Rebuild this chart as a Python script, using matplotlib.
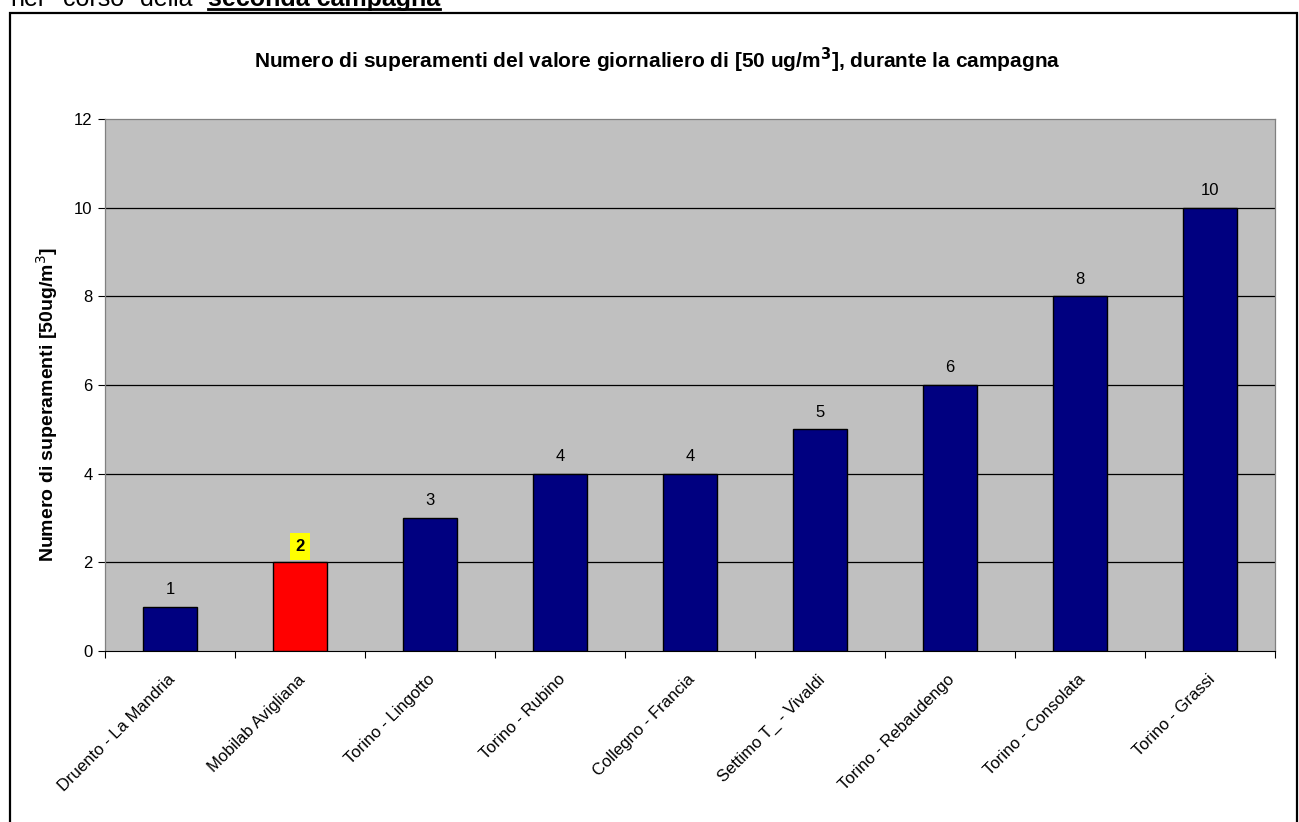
import matplotlib
matplotlib.use("Agg")
import matplotlib.pyplot as plt
from matplotlib.patches import Rectangle
from matplotlib.lines import Line2D

plt.rcParams['font.family'] = ['Liberation Sans', 'DejaVu Sans']

stations = ["Druento - La Mandria", "Mobilab Avigliana", "Torino - Lingotto",
            "Torino - Rubino", "Collegno - Francia", "Settimo T_ - Vivaldi",
            "Torino - Rebaudengo", "Torino - Consolata", "Torino - Grassi"]
exceedances = [1, 2, 3, 4, 4, 5, 6, 8, 10]
highlight = "Mobilab Avigliana"
yticks = [0, 2, 4, 6, 8, 10, 12]

W, H = 1299, 822
fig = plt.figure(figsize=(W / 100, H / 100), dpi=100)
fig.patch.set_facecolor('white')

# outer frame
fig.patches.append(Rectangle((10 / W, -0.01), (1297 - 10) / W, (H - 13) / H + 0.01,
                             transform=fig.transFigure, fill=False,
                             edgecolor='black', linewidth=1.6))

# cut-off heading text at top (justified line in the source document)
base_y = 1 - 6 / H
for word, px in [("nel", 10), ("corso", 63), ("della", 140)]:
    fig.text(px / W, base_y, word, fontsize=18, ha='left', va='baseline',
             color='black')
t2 = fig.text(208 / W, base_y, "seconda campagna", fontsize=18,
              fontweight='bold', ha='left', va='baseline', color='black')
fig.canvas.draw()
r = fig.canvas.get_renderer()
bb2 = t2.get_window_extent(r)
fig.lines.append(Line2D([bb2.x0 / W, bb2.x1 / W], [1 - 9 / H, 1 - 9 / H],
                        transform=fig.transFigure, color='black', linewidth=2))

ax = fig.add_axes([105 / W, 1 - 651 / H, (1275 - 105) / W, (651 - 119) / H])
ax.set_facecolor('#C0C0C0')

x = list(range(len(stations)))
colors = ['#FF0000' if s == highlight else '#000080' for s in stations]
ax.bar(x, exceedances, width=0.41, color=colors, edgecolor='black',
       linewidth=1.0, zorder=3)

ax.set_xlim(-0.5, len(stations) - 0.5)
ax.set_ylim(0, 12)
ax.set_yticks(yticks)
ax.set_yticklabels([str(v) for v in yticks], fontsize=12)
for v in yticks[1:-1]:
    ax.axhline(v, color='black', linewidth=0.9, zorder=1)

ax.set_xticks([i + 0.5 for i in range(-1, len(stations))])
ax.set_xticklabels([])
ax.tick_params(axis='x', length=5, direction='out', width=0.8)
ax.tick_params(axis='y', length=5, direction='out', width=0.8, pad=4)

for s, xi in zip(stations, x):
    ax.annotate(s, xy=(xi, 0), xycoords=('data', 'axes fraction'),
                xytext=(-2, -15), textcoords='offset points',
                rotation=45, rotation_mode='anchor', ha='right', va='top',
                fontsize=12)

for s, xi, v in zip(stations, x, exceedances):
    if s == highlight:
        ax.annotate(str(v), xy=(xi, v), xytext=(0, 6), textcoords='offset points',
                    ha='center', va='bottom', fontsize=12, fontweight='bold',
                    bbox=dict(boxstyle='square,pad=0.35', facecolor='#FFFF00',
                              edgecolor='none'))
    else:
        ax.annotate(str(v), xy=(xi, v), xytext=(0, 7), textcoords='offset points',
                    ha='center', va='bottom', fontsize=12)

for sp in ['top', 'right', 'left']:
    ax.spines[sp].set_color('#808080')
    ax.spines[sp].set_linewidth(0.9)
ax.spines['bottom'].set_color('black')

fig.text(47 / W, 1 - 405 / H, "Numero di superamenti [50ug/m$^3$]",
         rotation=90, ha='center', va='center', fontsize=14, fontweight='bold')
fig.text(657 / W, 1 - 60 / H,
         "Numero di superamenti del valore giornaliero di [50 ug/m$^{\\mathbf{3}}$], durante la campagna",
         ha='center', va='center', fontsize=15, fontweight='bold')

fig.savefig("out.png", dpi=100)
